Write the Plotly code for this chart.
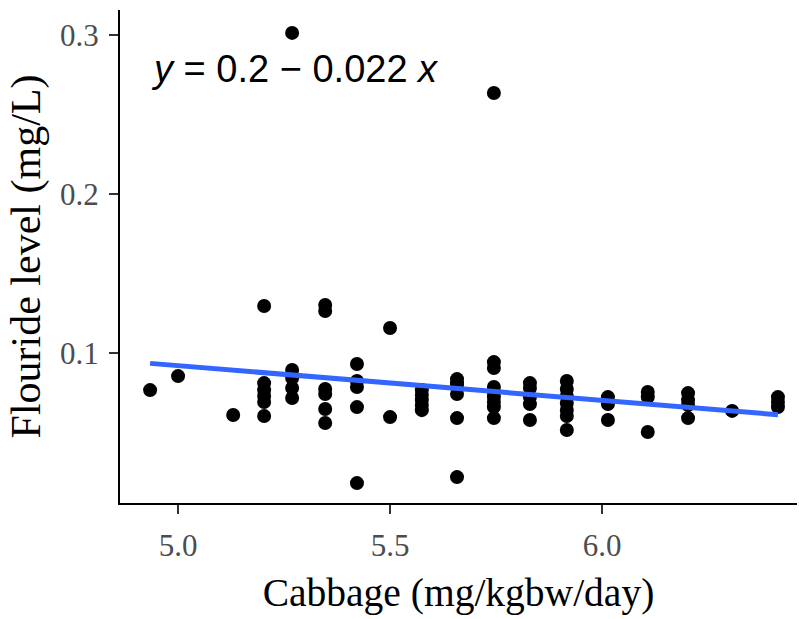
import plotly.graph_objects as go

# Cabbage intake (mg/kgbw/day) and fluoride level (mg/L)
cabbage = (
    [4.934, 5.0, 5.130]
    + [5.203] * 6
    + [5.269] * 5
    + [5.347] * 6
    + [5.422] * 5
    + [5.5] * 2
    + [5.575] * 5
    + [5.658] * 6
    + [5.745] * 9
    + [5.830] * 5
    + [5.917] * 7
    + [6.014] * 3
    + [6.108] * 3
    + [6.203] * 4
    + [6.307]
    + [6.415] * 3
)
fluoride = [
    0.0767, 0.0855, 0.061,
    0.1296, 0.0811, 0.0767, 0.073, 0.0692, 0.0604,
    0.3013, 0.0893, 0.0843, 0.078, 0.0717,
    0.1302, 0.1264, 0.0774, 0.0742, 0.0648, 0.056,
    0.0931, 0.0824, 0.0786, 0.066, 0.0182,
    0.1157, 0.0597,
    0.0767, 0.0736, 0.0704, 0.0673, 0.0641,
    0.0836, 0.0811, 0.0799, 0.0742, 0.0591, 0.022,
    0.2635, 0.0943, 0.0906, 0.0786, 0.0755, 0.0723, 0.0692, 0.066, 0.0591,
    0.0811, 0.078, 0.0723, 0.0679, 0.0579,
    0.0824, 0.0774, 0.073, 0.0686, 0.0642, 0.0604, 0.0516,
    0.0723, 0.0679, 0.0579,
    0.0755, 0.0723, 0.0503,
    0.0748, 0.0704, 0.0673, 0.0591,
    0.0636,
    0.0723, 0.0692, 0.066,
]

# fitted line endpoints
fit_x = [4.934, 6.415]
fit_y = [0.0935, 0.0612]

x_ticks = [5.0, 5.5, 6.0]
x_tick_labels = ["5.0", "5.5", "6.0"]
y_ticks = [0.1, 0.2, 0.3]
y_tick_labels = ["0.1", "0.2", "0.3"]

equation = "<i>y</i> = 0.2 \u2212 0.022 <i>x</i>"

fig = go.Figure()
fig.add_trace(go.Scatter(
    x=cabbage, y=fluoride, mode="markers",
    marker=dict(color="black", size=14),
    hoverinfo="x+y", showlegend=False,
))
fig.add_trace(go.Scatter(
    x=fit_x, y=fit_y, mode="lines",
    line=dict(color="#3366FF", width=5),
    showlegend=False,
))

fig.add_annotation(
    x=0.043, y=0.88, xref="paper", yref="paper",
    xanchor="left", yanchor="middle",
    text=equation, showarrow=False,
    font=dict(family="Liberation Sans, Arial, sans-serif", size=38, color="black"),
)

fig.update_layout(
    width=799, height=619,
    margin=dict(l=120, r=2, t=10, b=116),
    plot_bgcolor="white", paper_bgcolor="white",
    font=dict(family="Liberation Serif, Times New Roman, serif"),
)
fig.update_xaxes(
    range=[4.863, 6.46],
    tickvals=x_ticks, ticktext=x_tick_labels,
    showgrid=False, zeroline=False,
    showline=True, linecolor="black", linewidth=2,
    ticks="outside", ticklen=9, tickwidth=2, tickcolor="#333333",
    tickfont=dict(size=31, color="#4d4d4d"),
    ticklabelstandoff=5,
    title=dict(text="Cabbage (mg/kgbw/day)", font=dict(size=39.5, color="black"), standoff=16),
)
fig.update_yaxes(
    range=[0.0057, 0.3157],
    tickvals=y_ticks, ticktext=y_tick_labels,
    showgrid=False, zeroline=False,
    showline=True, linecolor="black", linewidth=2,
    ticks="outside", ticklen=9, tickwidth=2, tickcolor="#333333",
    tickfont=dict(size=31, color="#4d4d4d"),
    ticklabelstandoff=4,
    title=dict(text="Flouride level (mg/L)", font=dict(size=42, color="black"), standoff=6),
)

fig.write_html(
    "out.html",
    config={"displayModeBar": False},
    post_script="document.body.style.margin='0';",
)
